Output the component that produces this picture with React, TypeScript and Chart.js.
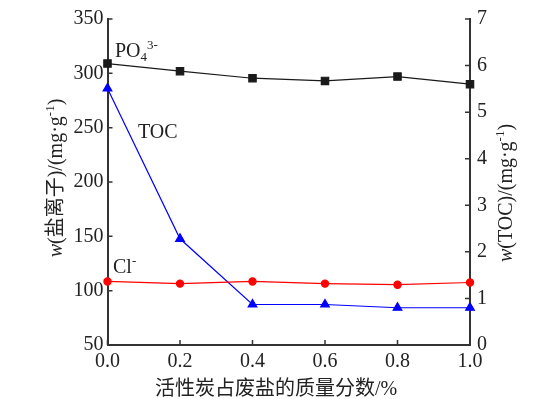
import React, { useEffect, useRef } from "react";
import { Chart, registerables } from "chart.js";

Chart.register(...registerables);

const massFraction = [0, 0.2, 0.4, 0.6, 0.8, 1.0];
const po4Values = [309, 302, 295.5, 293, 297, 290];
const clValues = [108.5, 106.5, 108.5, 106.5, 105.5, 107.5];
const tocValues = [5.51, 2.28, 0.87, 0.87, 0.8, 0.8];

const xTitle = "活性炭占废盐的质量分数/%";
const SERIF = '"Liberation Serif", serif';
const CJK = '"Liberation Serif", "Noto Sans CJK SC", serif';

type Part = { t: string; font: string; dy?: number };

function drawRich(ctx: CanvasRenderingContext2D, parts: Part[], cx: number, cy: number, rot: number, align: "center" | "left" = "center") {
  ctx.save();
  ctx.translate(cx, cy);
  ctx.rotate(rot);
  ctx.textBaseline = "alphabetic";
  ctx.textAlign = "left";
  let total = 0;
  for (const p of parts) {
    ctx.font = p.font;
    total += ctx.measureText(p.t).width;
  }
  let x = align === "center" ? -total / 2 : 0;
  for (const p of parts) {
    ctx.font = p.font;
    ctx.fillText(p.t, x, p.dy || 0);
    x += ctx.measureText(p.t).width;
  }
  ctx.restore();
}

const decorPlugin = {
  id: "decor",
  afterDraw(chart: any) {
    const ctx: CanvasRenderingContext2D = chart.ctx;
    const { left, right, bottom } = chart.chartArea;
    const sx = chart.scales.x;
    const sy = chart.scales.y;
    const sy2 = chart.scales.y2;
    ctx.save();
    ctx.strokeStyle = "#333";
    ctx.lineWidth = 1.5;
    ctx.beginPath();
    for (const t of sy.ticks) {
      const y = sy.getPixelForValue(t.value);
      ctx.moveTo(left, y);
      ctx.lineTo(left + 5, y);
    }
    for (const t of sy2.ticks) {
      const y = sy2.getPixelForValue(t.value);
      ctx.moveTo(right, y);
      ctx.lineTo(right - 5, y);
    }
    for (const t of sx.ticks) {
      const x = sx.getPixelForValue(t.value);
      ctx.moveTo(x, bottom);
      ctx.lineTo(x, bottom - 5);
    }
    ctx.stroke();

    ctx.fillStyle = "#222";
    const f20 = `20px ${SERIF}`;
    const fi20 = `italic 20px ${SERIF}`;
    const f13 = `13px ${SERIF}`;
    const c20 = `20px ${CJK}`;
    drawRich(ctx, [
      { t: "w", font: fi20 },
      { t: "(盐离子)/(mg·g", font: c20 },
      { t: "-1", font: f13, dy: -8 },
      { t: ")", font: f20 },
    ], 62, 178, -Math.PI / 2);
    drawRich(ctx, [
      { t: "w", font: fi20 },
      { t: "(TOC)/(mg·g", font: f20 },
      { t: "-1", font: f13, dy: -8 },
      { t: ")", font: f20 },
    ], 512, 193, -Math.PI / 2);
    drawRich(ctx, [{ t: xTitle, font: c20 }], 276, 395, 0);
    drawRich(ctx, [
      { t: "PO", font: f20 },
      { t: "4", font: f13, dy: 4 },
      { t: "3-", font: f13, dy: -8 },
    ], 115, 57, 0, "left");
    drawRich(ctx, [{ t: "TOC", font: f20 }], 138, 138, 0, "left");
    drawRich(ctx, [
      { t: "Cl", font: f20 },
      { t: "-", font: f13, dy: -8 },
    ], 113, 273, 0, "left");
    ctx.restore();
  },
};

export default function App() {
  const ref = useRef<HTMLCanvasElement>(null);
  useEffect(() => {
    if (!ref.current) return;
    let chart: Chart | null = null;
    let cancelled = false;
    const build = () => {
      if (cancelled || !ref.current) return;
      const mk = (vals: number[]) => massFraction.map((x, i) => ({ x, y: vals[i] }));
      const tickFont = { family: SERIF, size: 20 };
      chart = new Chart(ref.current, {
        type: "line",
        data: {
          datasets: [
            {
              label: "PO4",
              data: mk(po4Values),
              yAxisID: "y",
              borderColor: "#1a1a1a",
              backgroundColor: "#1a1a1a",
              borderWidth: 1.2,
              pointStyle: "rect",
              pointRadius: 5.2,
              tension: 0,
              clip: false as any,
            },
            {
              label: "Cl",
              data: mk(clValues),
              yAxisID: "y",
              borderColor: "#ff0000",
              backgroundColor: "#ff0000",
              borderWidth: 1.2,
              pointStyle: "circle",
              pointRadius: 3.6,
              tension: 0,
              clip: false as any,
            },
            {
              label: "TOC",
              data: mk(tocValues),
              yAxisID: "y2",
              borderColor: "#0000ff",
              backgroundColor: "#0000ff",
              borderWidth: 1.2,
              pointStyle: "triangle",
              pointRadius: 5,
              tension: 0,
              clip: false as any,
            },
          ],
        },
        options: {
          responsive: false,
          animation: false,
          layout: { padding: { top: 16, left: 0, right: 0, bottom: 0 } },
          plugins: { legend: { display: false }, tooltip: { enabled: false } },
          scales: {
            x: {
              type: "linear",
              min: 0,
              max: 1,
              grid: { display: true, drawOnChartArea: false, drawTicks: false },
              border: { display: true, color: "#333", width: 2 },
              ticks: {
                stepSize: 0.2,
                padding: 5,
                color: "#222",
                font: tickFont,
                maxRotation: 0,
                callback: (v: any) => Number(v).toFixed(1),
              },
              afterFit: (s: any) => { s.height = 54; },
            },
            y: {
              position: "left",
              min: 50,
              max: 350,
              grid: { display: true, drawOnChartArea: false, drawTicks: false },
              border: { display: true, color: "#333", width: 2 },
              ticks: { stepSize: 50, padding: 4, color: "#222", font: tickFont },
              afterFit: (s: any) => { s.width = 107.5; },
            },
            y2: {
              position: "right",
              min: 0,
              max: 7,
              grid: { display: true, drawOnChartArea: false, drawTicks: false },
              border: { display: true, color: "#333", width: 2 },
              ticks: { stepSize: 1, padding: 7, color: "#222", font: tickFont },
              afterFit: (s: any) => { s.width = 78; },
            },
          },
        },
        plugins: [decorPlugin],
      });
    };
    const fonts: any = (document as any).fonts;
    if (fonts && fonts.load) {
      Promise.all([
        fonts.load('20px "Liberation Serif"'),
        fonts.load('italic 20px "Liberation Serif"'),
        fonts.load('20px "Noto Sans CJK SC"', "活性"),
      ]).then(build, build);
    } else {
      build();
    }
    return () => {
      cancelled = true;
      if (chart) chart.destroy();
    };
  }, []);
  return (
    <div style={{ position: "absolute", left: 0, top: 0, width: 548, height: 399, background: "#fff" }}>
      <canvas ref={ref} width={548} height={399} />
    </div>
  );
}
